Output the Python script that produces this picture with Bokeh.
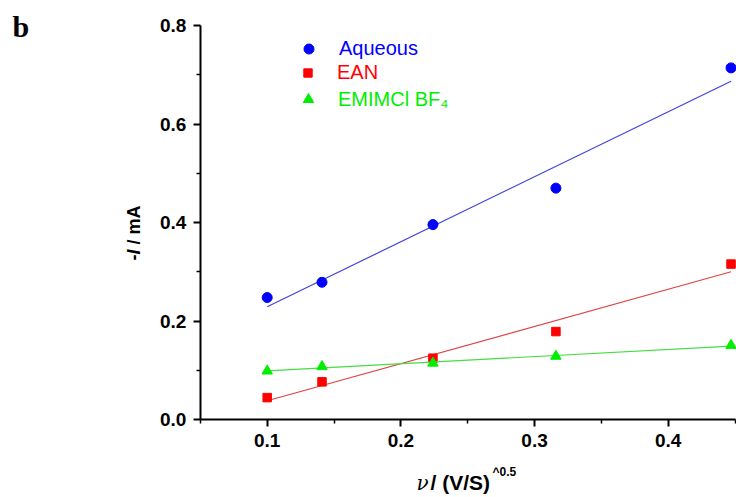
import numpy as np
from bokeh.plotting import figure
from bokeh.models import (Range1d, FixedTicker, PrintfTickFormatter, Label,
                          Legend, LegendItem)
from bokeh.embed import file_html
from bokeh.resources import INLINE

# ---- data ----
scan_sqrt = [0.100, 0.141, 0.224, 0.316, 0.447]
aqueous = [0.248, 0.279, 0.396, 0.470, 0.714]
ean = [0.045, 0.077, 0.125, 0.179, 0.316]
emim = [0.099, 0.108, 0.115, 0.129, 0.151]
series_names = ["Aqueous", "EAN", "EMIMCl BF\u2084"]
series_colors = ["#0000FF", "#FF0000", "#00EE00"]
fit_colors = ["#4444DD", "#E04444", "#44DD44"]
x_major = [0.1, 0.2, 0.3, 0.4]
x_minor = [0.05, 0.15, 0.25, 0.35, 0.45]
y_major = [0.0, 0.2, 0.4, 0.6, 0.8]
y_minor = [0.1, 0.3, 0.5, 0.7]
x_axis_bounds = (0.05, 0.45)
y_axis_bounds = (0.0, 0.8)

W, H = 736, 497
# pixel placement of the axes inside the canvas
PX_X1, PX_X4 = 266.7, 667.7     # pixel x of 0.1 and 0.4
PX_Y0, PX_Y8 = 419.3, 25.0      # pixel y of 0.0 and 0.8
xs_per_px = 0.3 / (PX_X4 - PX_X1)
ys_per_px = 0.8 / (PX_Y0 - PX_Y8)
x_start = 0.1 - PX_X1 * xs_per_px
x_end = 0.4 + (W - PX_X4) * xs_per_px
y_end = 0.8 + PX_Y8 * ys_per_px
y_start = 0.0 - (H - PX_Y0) * ys_per_px

p = figure(width=W, height=H, output_backend="svg", toolbar_location=None,
           x_range=Range1d(x_start, x_end), y_range=Range1d(y_start, y_end),
           min_border_left=0, min_border_right=0, min_border_top=0,
           min_border_bottom=0)
p.outline_line_color = None
p.grid.visible = False
p.background_fill_color = "white"
p.border_fill_color = "white"

p.xaxis.fixed_location = 0.0
p.xaxis.bounds = x_axis_bounds
p.yaxis.fixed_location = 0.05
p.yaxis.bounds = y_axis_bounds

for ax, maj, mnr in ((p.xaxis[0], x_major, x_minor), (p.yaxis[0], y_major, y_minor)):
    ax.ticker = FixedTicker(ticks=maj, minor_ticks=mnr)
    ax.formatter = PrintfTickFormatter(format="%.1f")
    ax.axis_line_width = 2
    ax.axis_line_color = "black"
    ax.major_tick_line_width = 2
    ax.minor_tick_line_width = 1.5
    ax.major_tick_in = 0
    ax.major_tick_out = 7
    ax.minor_tick_in = 0
    ax.minor_tick_out = 4
    ax.major_label_text_font = "Liberation Sans"
    ax.major_label_text_font_style = "bold"
    ax.major_label_text_font_size = "19px"
    ax.major_label_text_color = "black"
    ax.major_label_standoff = 7

shapes = ["circle", "square", "triangle"]
sizes = [10, 8.5, 10.5]
legend_glyph = [25, 21.25, 26.25]
legend_cy = [449, 424, 398]   # screen y (from bottom) of legend marker centres
data = [aqueous, ean, emim]
xs = np.array(scan_sqrt)
for i, ys in enumerate(data):
    k, b = np.polyfit(xs, np.array(ys), 1)
    xf = [xs.min(), xs.max()]
    p.line(xf, [k * v + b for v in xf], line_color=fit_colors[i], line_width=1.2)
    r = p.scatter(scan_sqrt, ys, marker=shapes[i], size=sizes[i],
                  fill_color=series_colors[i], line_color=series_colors[i])
    g = legend_glyph[i]
    gi = int(round(g))
    leg = Legend(items=[LegendItem(label=series_names[i], renderers=[r])],
                 location=(int(round(308 - g / 2)), int(round(legend_cy[i] - g / 2))),
                 glyph_width=gi, glyph_height=gi, label_height=gi,
                 label_standoff=int(round(30 - g / 2)),
                 padding=0, margin=0, spacing=0,
                 border_line_color=None, background_fill_alpha=0,
                 label_text_font="Liberation Sans", label_text_font_size="20px",
                 label_text_color=series_colors[i], label_text_baseline="middle")
    p.add_layout(leg)

# panel letter
p.add_layout(Label(x=12, y=H - 26, x_units="screen", y_units="screen",
                   text="b", text_font="Liberation Serif", text_font_style="bold",
                   text_font_size="30px", text_color="black",
                   text_baseline="middle"))

# x axis label: ν / (V/S)^0.5
XM = H - 482
p.add_layout(Label(x=416, y=XM, x_units="screen", y_units="screen", text="\u03bd",
                   text_font="DejaVu Serif", text_font_style="italic",
                   text_font_size="20px", text_color="black", text_baseline="middle"))
p.add_layout(Label(x=430, y=XM, x_units="screen", y_units="screen", text="/ (V/S)",
                   text_font="Liberation Sans", text_font_style="bold",
                   text_font_size="21px", text_color="black", text_baseline="middle"))
p.add_layout(Label(x=492, y=H - 471.5, x_units="screen", y_units="screen", text="^0.5",
                   text_font="Liberation Sans", text_font_style="bold",
                   text_font_size="12px", text_color="black", text_baseline="middle"))

# y axis label: -I / mA (rotated)
YX = 133
YS = H - 260
for txt, style, dy in (("-", "bold", 0), ("I", "bold italic", 6), ("/ mA", "bold", 16)):
    p.add_layout(Label(x=YX, y=YS + dy, x_units="screen", y_units="screen", text=txt,
                       angle=np.pi / 2, text_font="Liberation Sans", text_font_style=style,
                       text_font_size="18px", text_color="black",
                       text_baseline="middle", text_align="left"))

open("out.html", "w").write(file_html(p, INLINE))
